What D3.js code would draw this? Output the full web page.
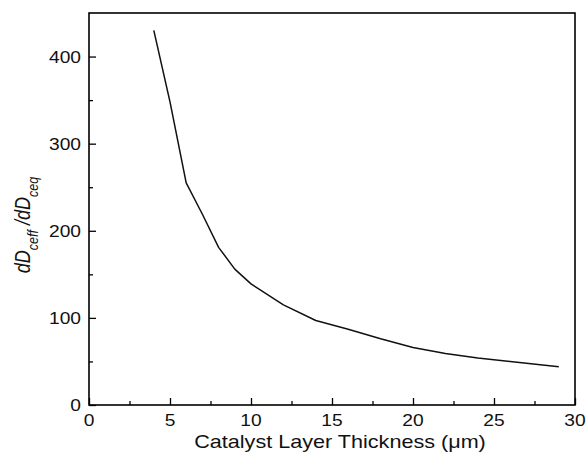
<!DOCTYPE html>
<html>
<head>
<meta charset="utf-8">
<script src="https://cdn.jsdelivr.net/npm/d3@7"></script>
<style>
  html, body { margin: 0; padding: 0; background: #fff; }
  svg { display: block; }
  text { font-family: "Liberation Sans", Arial, sans-serif; fill: #111; }
</style>
</head>
<body>
<svg id="chart" width="586" height="462"></svg>
<script>
// Data
const thickness = [4, 5, 6, 7, 8, 9, 10, 12, 14, 16, 18, 20, 22, 24, 26, 28, 29];
const ratio     = [430, 348, 255, 219, 181, 156, 139, 115, 97, 87, 76, 66, 59, 54, 50, 46, 44];
const xTicks = [0, 5, 10, 15, 20, 25, 30];
const yTicks = [0, 100, 200, 300, 400];
const xMinor = [2.5, 7.5, 12.5, 17.5, 22.5, 27.5];
const yMinor = [50, 150, 250, 350];

const svg = d3.select("#chart");
const m = { left: 89, right: 575, top: 13, bottom: 405 };
const x = d3.scaleLinear().domain([0, 30]).range([m.left, m.right]);
const y = d3.scaleLinear().domain([0, 450]).range([m.bottom, m.top]);
const sx = 1.2; // horizontal text stretch seen in the reference

// frame
svg.append("rect")
  .attr("x", m.left).attr("y", m.top)
  .attr("width", m.right - m.left).attr("height", m.bottom - m.top)
  .attr("fill", "none").attr("stroke", "#000").attr("stroke-width", 1.6);

// bottom axis ticks (inward)
const gx = svg.append("g").attr("transform", `translate(0,${m.bottom})`)
  .call(d3.axisBottom(x).tickValues(xTicks).tickSize(-7).tickFormat(""));
gx.select(".domain").remove();
gx.selectAll("line").attr("stroke", "#000").attr("stroke-width", 1.3);
const gxm = svg.append("g").attr("transform", `translate(0,${m.bottom})`)
  .call(d3.axisBottom(x).tickValues(xMinor).tickSize(-4).tickFormat(""));
gxm.select(".domain").remove();
gxm.selectAll("line").attr("stroke", "#000").attr("stroke-width", 1.3);

// left axis ticks (inward)
const gy = svg.append("g").attr("transform", `translate(${m.left},0)`)
  .call(d3.axisLeft(y).tickValues(yTicks).tickSize(-7).tickFormat(""));
gy.select(".domain").remove();
gy.selectAll("line").attr("stroke", "#000").attr("stroke-width", 1.3);
const gym = svg.append("g").attr("transform", `translate(${m.left},0)`)
  .call(d3.axisLeft(y).tickValues(yMinor).tickSize(-4).tickFormat(""));
gym.select(".domain").remove();
gym.selectAll("line").attr("stroke", "#000").attr("stroke-width", 1.3);

// tick labels
svg.append("g").selectAll("text").data(xTicks).join("text")
  .attr("transform", d => `translate(${x(d)},426) scale(${sx},1)`)
  .attr("text-anchor", "middle").attr("font-size", 16)
  .text(d => d);
svg.append("g").selectAll("text").data(yTicks).join("text")
  .attr("transform", d => `translate(81,${y(d) + 6}) scale(${sx},1)`)
  .attr("text-anchor", "end").attr("font-size", 16)
  .text(d => d);

// x title
svg.append("text")
  .attr("transform", `translate(${(m.left + m.right) / 2 + 8},448) scale(${sx},1)`)
  .attr("text-anchor", "middle").attr("font-size", 18)
  .text("Catalyst Layer Thickness (\u03BCm)");

// y title
const yt = svg.append("text")
  .attr("transform", `translate(30,225) rotate(-90) scale(1,${sx})`)
  .attr("text-anchor", "middle").attr("font-size", 18).attr("font-style", "italic");
yt.append("tspan").text("dD");
yt.append("tspan").attr("font-size", 12.5).attr("dy", 7).text("ceff");
yt.append("tspan").attr("dy", -7).text(" /dD");
yt.append("tspan").attr("font-size", 12.5).attr("dy", 7).text("ceq");

// curve
const line = d3.line().x((d, i) => x(thickness[i])).y(d => y(d));
svg.append("path").datum(ratio)
  .attr("d", line)
  .attr("fill", "none").attr("stroke", "#111").attr("stroke-width", 1.5)
  .attr("stroke-linejoin", "round");
</script>
</body>
</html>
